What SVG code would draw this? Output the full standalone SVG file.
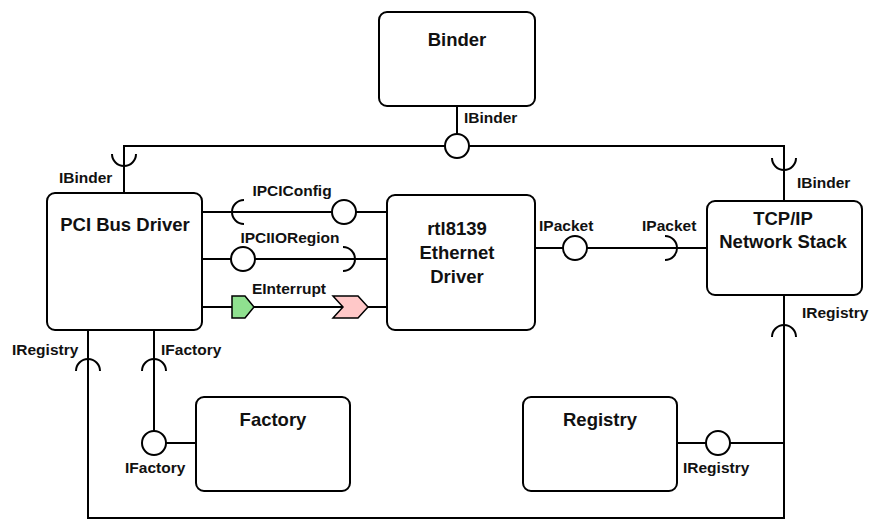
<svg xmlns="http://www.w3.org/2000/svg" width="874" height="520" viewBox="0 0 874 520">
<style>
.box{fill:#fff;stroke:#000;stroke-width:2}
.ln{fill:none;stroke:#000;stroke-width:2}
.ball{fill:#fff;stroke:#000;stroke-width:2}
.t{font-family:"Liberation Sans",Arial,sans-serif;font-weight:bold;font-size:18.5px;fill:#111;text-anchor:middle}
.l{font-family:"Liberation Sans",Arial,sans-serif;font-weight:bold;font-size:15.5px;fill:#111}
.m{text-anchor:middle}
</style>
<rect width="874" height="520" fill="#fff"/>
<g id="connectors">
<path class="ln" d="M457,106 V146"/>
<path class="ln" d="M124,193 V146 H784 V201"/>
<path class="ln" d="M112,154 A12,12 0 0 0 136,154"/>
<path class="ln" d="M772,158 A12,12 0 0 0 796,158"/>
<circle class="ball" cx="457" cy="146" r="12"/>
<text class="l" x="464" y="123">IBinder</text>
<text class="l" x="59" y="183">IBinder</text>
<text class="l" x="797" y="188">IBinder</text>

<path class="ln" d="M202,212 H387"/>
<path class="ln" d="M244,200 A12,12 0 0 0 244,224"/>
<circle class="ball" cx="344" cy="212" r="12"/>
<text class="l m" x="292" y="196">IPCIConfig</text>

<path class="ln" d="M202,259 H387"/>
<circle class="ball" cx="243" cy="259" r="12"/>
<path class="ln" d="M343,247 A12,12 0 0 1 343,271"/>
<text class="l m" x="290" y="243">IPCIIORegion</text>

<path class="ln" d="M202,307 H387"/>
<polygon points="232,296 245,296 254,307 245,318 232,318" fill="#8fe08f" stroke="#000" stroke-width="1.5"/>
<polygon points="333,296 358,296 368,307 358,318 333,318 343,307" fill="#ffc8c8" stroke="#000" stroke-width="1.5"/>
<text class="l m" x="289" y="294">EInterrupt</text>

<path class="ln" d="M535,248 H707"/>
<circle class="ball" cx="575" cy="248" r="12"/>
<path class="ln" d="M665,236 A12,12 0 0 1 665,260"/>
<text class="l" x="539" y="231">IPacket</text>
<text class="l" x="642" y="231">IPacket</text>

<path class="ln" d="M88,330 V518 H784 V295"/>
<path class="ln" d="M76,371 A12,12 0 0 1 100,371"/>
<path class="ln" d="M772,337 A12,12 0 0 1 796,337"/>
<text class="l" x="802" y="318">IRegistry</text>
<text class="l" x="12" y="355">IRegistry</text>

<path class="ln" d="M154,330 V443 H196"/>
<path class="ln" d="M142,371 A12,12 0 0 1 166,371"/>
<circle class="ball" cx="154" cy="443" r="12"/>
<text class="l" x="161" y="355">IFactory</text>
<text class="l" x="125" y="473">IFactory</text>

<path class="ln" d="M677,443 H784"/>
<circle class="ball" cx="718" cy="443" r="12"/>
<text class="l" x="683" y="473">IRegistry</text>
</g>
<g id="binder">
<rect class="box" x="379" y="12" width="156" height="94" rx="8"/>
<text class="t" x="457" y="46">Binder</text>
</g>
<g id="pci">
<rect class="box" x="47" y="193" width="155" height="137" rx="8"/>
<text class="t" x="125" y="231">PCI Bus Driver</text>
</g>
<g id="rtl">
<rect class="box" x="387" y="195" width="148" height="135" rx="8"/>
<text class="t" x="457" y="235">rtl8139</text>
<text class="t" x="457" y="259">Ethernet</text>
<text class="t" x="457" y="283">Driver</text>
</g>
<g id="tcp">
<rect class="box" x="707" y="201" width="155" height="94" rx="8"/>
<text class="t" x="783" y="225">TCP/IP</text>
<text class="t" x="783" y="248">Network Stack</text>
</g>
<g id="factory">
<rect class="box" x="196" y="397" width="154" height="94" rx="8"/>
<text class="t" x="273" y="426">Factory</text>
</g>
<g id="registry">
<rect class="box" x="523" y="397" width="154" height="94" rx="8"/>
<text class="t" x="600" y="426">Registry</text>
</g>
</svg>
